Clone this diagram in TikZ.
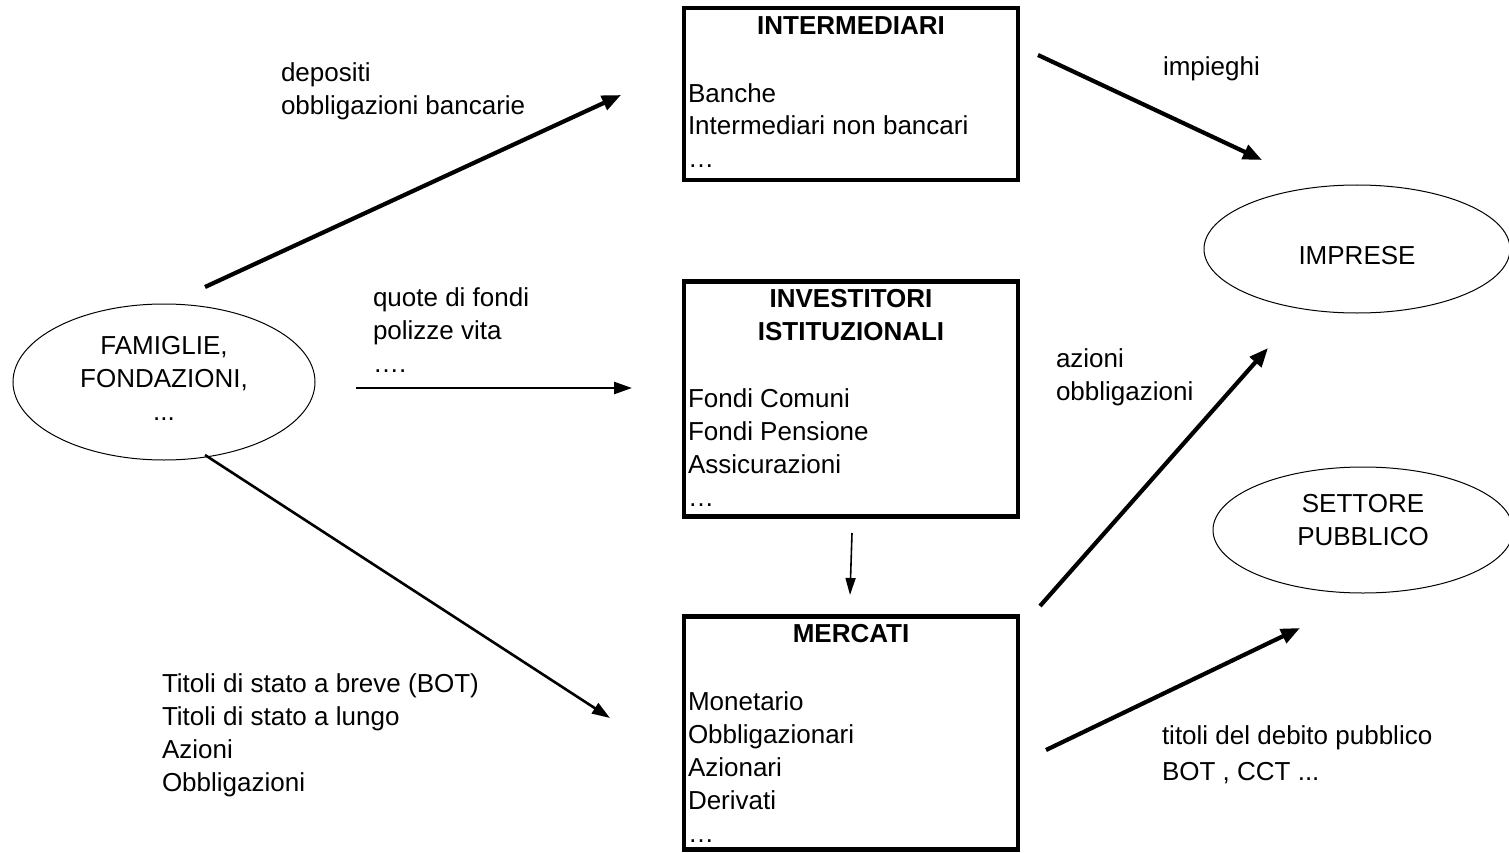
\documentclass[tikz,border=0pt]{standalone}
\usepackage{fontspec}
\setmainfont{Liberation Sans}
\usetikzlibrary{arrows.meta,shapes.geometric}
\begin{document}
\begin{tikzpicture}[x=1pt,y=-1pt,
  every node/.style={inner sep=0pt,outer sep=0pt,font=\fontsize{26}{33}\selectfont},
  bx/.style={draw,line width=4.5pt,minimum width=334pt,minimum height=168pt},
  ell/.style={draw,ellipse,line width=1pt},
  lbl/.style={align=left,anchor=base west},
  ttl/.style={align=center,anchor=base,font=\fontsize{26}{33}\selectfont\bfseries},
  thk/.style={line width=4.2pt,-{Triangle[length=19pt,width=15pt]}},
  med/.style={line width=2.6pt,-{Triangle[length=18pt,width=12pt]}},
  thn/.style={line width=1.6pt,-{Triangle[length=17pt,width=10pt]}}]
\useasboundingbox (0,0) rectangle (1509,853);
% boxes (multi-line nodes are placed by the baseline of their last line)
\node[bx,minimum height=172pt] (inter) at (851,94) {};
\node[bx,minimum height=235pt] (inv) at (851,399) {};
\node[bx,minimum height=233pt] (merc) at (851,733) {};
\node[ttl] (intert) at (851,35) {INTERMEDIARI};
\node[lbl] (interl) at (688,168) {Banche\\Intermediari non bancari\\\dots};
\node[ttl] (invt) at (851,340) {INVESTITORI\\ISTITUZIONALI};
\node[lbl] (invl) at (688,506) {Fondi Comuni\\Fondi Pensione\\Assicurazioni\\\dots};
\node[ttl] (merct) at (851,642) {MERCATI};
\node[lbl] (mercl) at (688,842) {Monetario\\Obbligazionari\\Azionari\\Derivati\\\dots};
% ellipses
\node[ell,minimum width=302pt,minimum height=156pt] (fam) at (164,382) {};
\node[align=center,anchor=base] (famt) at (164,420) {FAMIGLIE,\\FONDAZIONI,\\...};
\node[ell,minimum width=306pt,minimum height=128pt] (imp) at (1357,249) {};
\node[anchor=base] (impt) at (1357,264) {IMPRESE};
\node[ell,minimum width=300pt,minimum height=126pt] (set) at (1363,530) {};
\node[align=center,anchor=base] (sett) at (1363,545) {SETTORE\\PUBBLICO};
% labels
\node[lbl] (l1) at (281,115) {depositi\\obbligazioni bancarie};
\node[lbl] (l2) at (373,372) {quote di fondi\\polizze vita\\\dots.};
\node[lbl] (l3) at (162,791) {Titoli di stato a breve (BOT)\\Titoli di stato a lungo\\Azioni\\Obbligazioni};
\node[lbl] (l4) at (1163,76) {impieghi};
\node[lbl] (l5) at (1056,400) {azioni\\obbligazioni};
\node[lbl,font=\fontsize{26}{36}\selectfont] (l6) at (1162,780) {titoli del debito pubblico\\BOT , CCT ...};
% connector endpoints
\coordinate (a1s) at (205,287); \coordinate (a1e) at (621,95);
\coordinate (a2s) at (356,388); \coordinate (a2e) at (632,388);
\coordinate (a3s) at (205,455); \coordinate (a3e) at (610,718);
\coordinate (a4s) at (1038,55); \coordinate (a4e) at (1262,160);
\coordinate (a5s) at (852,533); \coordinate (a5e) at (850,595);
\coordinate (a6s) at (1040,606); \coordinate (a6e) at (1268,348);
\coordinate (a7s) at (1046,750); \coordinate (a7e) at (1300,628);
\draw[thk] (a1s) -- (a1e);
\draw[med] (a2s) -- (a2e);
\draw[med] (a3s) -- (a3e);
\draw[thk] (a4s) -- (a4e);
\draw[thn] (a5s) -- (a5e);
\draw[thk] (a6s) -- (a6e);
\draw[thk] (a7s) -- (a7e);
\end{tikzpicture}
\end{document}
